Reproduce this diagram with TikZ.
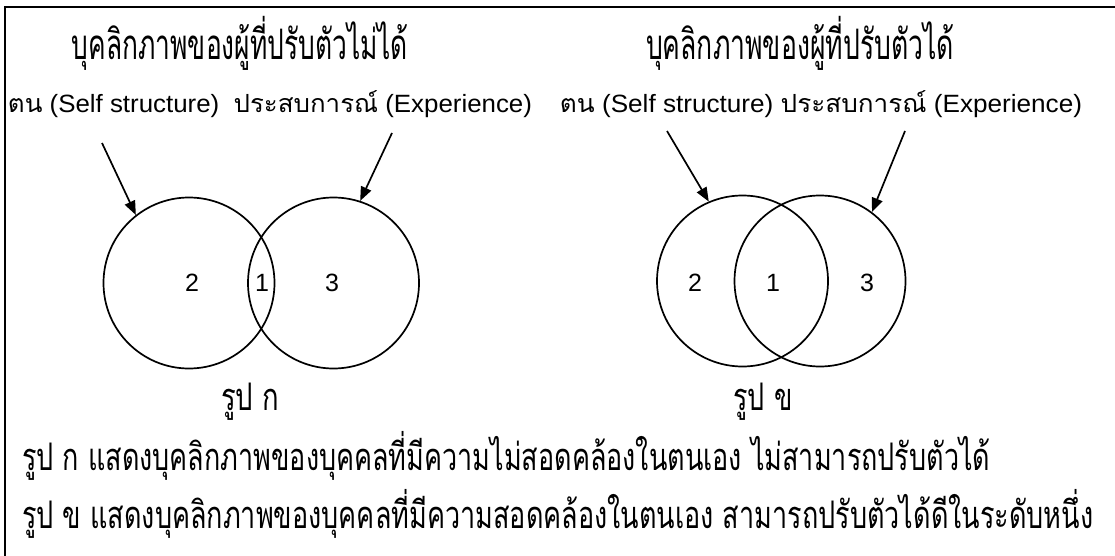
\documentclass[tikz,border=0pt]{standalone}
\usepackage{fontspec}
\usepackage{graphicx}
\setmainfont{Liberation Sans}
\newfontfamily\thai[Script=Thai]{Loma}
\usetikzlibrary{arrows.meta}
\tikzset{
  ring/.style={circle, draw, line width=1.7pt, minimum size=171pt, inner sep=0pt},
  arr/.style={line width=1.7pt, -{Triangle[length=14pt,width=11pt]}},
  num/.style={inner sep=0pt, font=\fontsize{25}{30}\selectfont},
  txt/.style={inner sep=0pt, anchor=base}
}
\newcommand{\fitw}[2]{\resizebox{#1}{\height}{#2}}
\begin{document}
\begin{tikzpicture}[x=1pt,y=-1pt]
\useasboundingbox (0,0) rectangle (1115,556);
\begin{scope}
\clip (0,0) rectangle (1115,556);
\draw[line width=2pt] (5,600) |- (1150,7);
\end{scope}
% titles
\node[txt] (t1) at (240,60) {\fitw{336pt}{\thai\fontsize{42}{48}\selectfont บุคลิกภาพของผู้ที่ปรับตัวไม่ได้}};
\node[txt] (t2) at (800,60) {\fitw{308pt}{\thai\fontsize{42}{48}\selectfont บุคลิกภาพของผู้ที่ปรับตัวได้}};
% subtitles
\node[txt] (s1) at (270,113) {\fitw{524pt}{\fontsize{25}{30}\selectfont{\thai ตน} (Self structure)\ \ {\thai ประสบการณ์} (Experience)}};
\node[txt] (s2) at (821,113) {\fitw{522pt}{\fontsize{25}{30}\selectfont{\thai ตน} (Self structure) {\thai ประสบการณ์} (Experience)}};
% left figure
\node[ring] (c1) at (189,283) {};
\node[ring] (c2) at (333.5,283) {};
\node[num] (n2a) at (192,283) {2};
\node[num] (n1a) at (262,283) {1};
\node[num] (n3a) at (332,283) {3};
\coordinate (p1) at (102,143);
\coordinate (p2) at (392,133);
\draw[arr] (p1) -- (c1.128);
\draw[arr] (p2) -- (c2.72);
% right figure
\node[ring] (c3) at (742.5,281) {};
\node[ring] (c4) at (820,281) {};
\node[num] (n2b) at (695,283) {2};
\node[num] (n1b) at (773,283) {1};
\node[num] (n3b) at (867,283) {3};
\coordinate (p3) at (667,131);
\coordinate (p4) at (905,131);
\draw[arr] (p3) -- (c3.113);
\draw[arr] (p4) -- (c4.53);
% captions
\node[txt] (k1) at (250,410) {\fitw{58pt}{\thai\fontsize{38}{44}\selectfont รูป ก}};
\node[txt] (k2) at (763,410) {\fitw{59pt}{\thai\fontsize{38}{44}\selectfont รูป ข}};
% bottom lines
\node[txt, anchor=base west] (b1) at (22,470) {\fitw{968pt}{\thai\fontsize{38}{44}\selectfont รูป ก แสดงบุคลิกภาพของบุคคลที่มีความไม่สอดคล้องในตนเอง ไม่สามารถปรับตัวได้}};
\node[txt, anchor=base west] (b2) at (22,528) {\fitw{1071pt}{\thai\fontsize{38}{44}\selectfont รูป ข แสดงบุคลิกภาพของบุคคลที่มีความสอดคล้องในตนเอง สามารถปรับตัวได้ดีในระดับหนึ่ง}};
\end{tikzpicture}
\end{document}
